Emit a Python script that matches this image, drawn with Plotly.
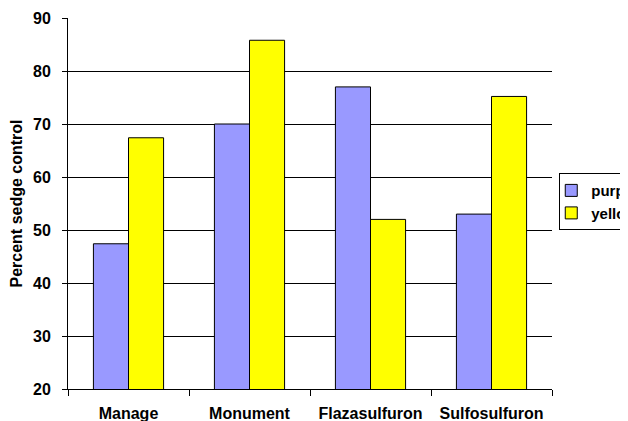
import plotly.graph_objects as go

categories = ["Manage", "Monument", "Flazasulfuron", "Sulfosulfuron"]
purple = [47.4, 70.0, 77.0, 53.0]
yellow = [67.4, 85.8, 52.0, 75.2]
y_ticks = [20, 30, 40, 50, 60, 70, 80, 90]

FONT = "Liberation Sans, Arial, sans-serif"

fig = go.Figure()
fig.add_trace(go.Bar(name="purple", x=categories, y=purple,
                     marker=dict(color="#9999FF", line=dict(color="black", width=1))))
fig.add_trace(go.Bar(name="yellow", x=categories, y=yellow,
                     marker=dict(color="#FFFF00", line=dict(color="black", width=1))))

fig.update_layout(
    width=628, height=421,
    barmode="group", bargap=0.42, bargroupgap=0,
    paper_bgcolor="white", plot_bgcolor="white",
    margin=dict(l=60, r=84, t=10, b=40, autoexpand=False),
    font=dict(family=FONT, size=16, color="black"),
    legend=dict(x=1.015, xanchor="left", y=0.505, yanchor="middle",
                bgcolor="white", bordercolor="black", borderwidth=1,
                indentation=-9, tracegroupgap=0,
                font=dict(family=FONT, size=15, color="black", weight="bold")),
    xaxis=dict(showline=True, linecolor="black", linewidth=1,
               ticks="outside", tickson="boundaries", ticklen=6, tickcolor="black",
               tickfont=dict(family=FONT, size=16, weight="bold"),
               ticklabelstandoff=10, showgrid=False),
    yaxis=dict(range=[20, 90], tickvals=y_ticks, showline=True, linecolor="black",
               linewidth=1, ticks="outside", ticklen=5, tickcolor="black",
               showgrid=True, gridcolor="black", gridwidth=1, zeroline=False,
               tickfont=dict(family=FONT, size=16, weight="bold"),
               ticklabelstandoff=8,
               title=dict(text="Percent sedge control", standoff=8,
                          font=dict(family=FONT, size=16, weight="bold"))),
)

fig.write_html("out.html")
